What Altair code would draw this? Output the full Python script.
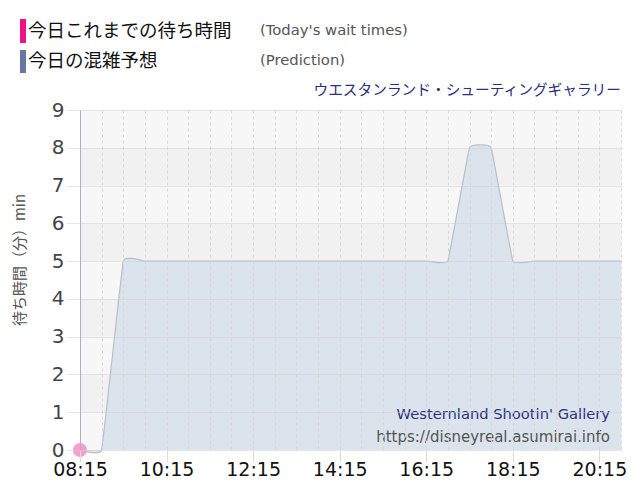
import altair as alt
import pandas as pd

# ---- data (30-minute prediction steps) ----
pred_times = ["08:15", "08:45", "09:15", "09:45", "10:15", "10:45", "11:15", "11:45",
              "12:15", "12:45", "13:15", "13:45", "14:15", "14:45", "15:15", "15:45",
              "16:15", "16:45", "17:15", "17:45", "18:15", "18:45", "19:15", "19:45",
              "20:15", "20:45"]
pred_values = [0, 0, 5, 5, 5, 5, 5, 5,
               5, 5, 5, 5, 5, 5, 5, 5,
               5, 5, 8, 8, 5, 5, 5, 5,
               5, 5]
today_times = ["08:15"]
today_values = [0]

band_lo = [0, 1, 2, 3, 4, 5, 6, 7, 8]
x_ticks = [8.25 + 0.5 * i for i in range(26)]
y_ticks = [0, 1, 2, 3, 4, 5, 6, 7, 8, 9]

def to_hours(t):
    h, m = t.split(":")
    return int(h) + int(m) / 60

pred = pd.DataFrame({"t": pred_times, "v": pred_values})
pred["h"] = pred["t"].map(to_hours)
today = pd.DataFrame({"t": today_times, "v": today_values})
today["h"] = today["t"].map(to_hours)
bands = pd.DataFrame({"lo": band_lo})
bands["hi"] = bands["lo"] + 1
bands["c"] = ["#f7f7f7" if b % 2 == 0 else "#f1f1f1" for b in band_lo]

W, H = 541, 340
XD = [8.25, 20.75]
YD = [0, 9]

major = "(datum.value - 8.25) % 2 == 0"
label_expr = (major + " ? "
              "(floor(datum.value) < 10 ? '0' : '') + floor(datum.value) + ':' + "
              "(round((datum.value % 1) * 60) < 10 ? '0' : '') + round((datum.value % 1) * 60) : ''")

xs = alt.Scale(domain=XD, nice=False, zero=False)
ys = alt.Scale(domain=YD, nice=False)

x_axis = alt.Axis(values=x_ticks, labelExpr=label_expr, title=None, grid=True,
                  gridColor="#d6d6d6", gridDash=[3, 3], gridWidth=1,
                  domain=False, tickColor="#dcdcdc", tickSize=12,
                  tickOpacity={"condition": {"test": major, "value": 1}, "value": 0},
                  labelFont="DejaVu Sans", labelFontSize=19, labelColor="#111",
                  labelPadding=-2, zindex=1, labelOverlap=False, labelFlush=False,
                  labelBound=False)
y_axis = alt.Axis(values=y_ticks, title=None, grid=True, gridColor="#cfcfcf",
                  gridDash=[1, 1], domainColor="#b0b0b8", tickColor="#cfcfcf",
                  tickDash=[1, 1], tickSize=14, labelFont="DejaVu Sans", labelFontSize=20,
                  labelColor="#444", labelPadding=2, zindex=1, labelOverlap=False,
                  labelFlush=False, labelBound=False)

band_layer = alt.Chart(bands).mark_rect().encode(
    y=alt.Y("lo:Q", scale=ys, axis=y_axis),
    y2="hi:Q",
    x=alt.value(0), x2=alt.value(W),
    color=alt.Color("c:N", scale=None),
)

TENSION = 0.8
area_layer = alt.Chart(pred).mark_area(
    interpolate="cardinal", tension=TENSION, color="#d9e3eb", opacity=0.95,
    line={"color": "#b5c0ca", "strokeWidth": 1.2, "interpolate": "cardinal", "tension": TENSION},
).encode(
    x=alt.X("h:Q", scale=xs, axis=x_axis),
    y=alt.Y("v:Q", scale=ys, axis=y_axis),
)

point_layer = alt.Chart(today).mark_circle(size=200, color="#f4a0cd", opacity=1).encode(
    x=alt.X("h:Q", scale=xs, axis=x_axis), y=alt.Y("v:Q", scale=ys, axis=y_axis)
)

ann = pd.DataFrame({"k": [0]})

def txt(text, x, y, size, color, font, align="left", angle=0, baseline="middle"):
    kw = dict(text=text, align=align, baseline=baseline, fontSize=size, color=color, font=font)
    if angle:
        kw["angle"] = angle
    return alt.Chart(ann).mark_text(**kw).encode(x=alt.value(x), y=alt.value(y))

def bar(x, x2, y, y2, color):
    return alt.Chart(ann).mark_rect(color=color).encode(
        x=alt.value(x), x2=alt.value(x2), y=alt.value(y), y2=alt.value(y2))

jp = "Noto Sans CJK JP"
layers = [
    band_layer, area_layer, point_layer,
    bar(-60, -54, -91, -67, "#ee1188"),
    bar(-60, -54, -60, -37, "#6677a3"),
    txt("今日これまでの待ち時間", -52, -79, 18.5, "#111", jp),
    txt("今日の混雑予想", -52, -49, 18.5, "#111", jp),
    txt("(Today's wait times)", 180, -79, 14.8, "#555", "DejaVu Sans"),
    txt("(Prediction)", 180, -49, 14.8, "#555", "DejaVu Sans"),
    txt("ウエスタンランド・シューティングギャラリー", 541, -19, 14.7, "#2a2f7e", jp, align="right"),
    txt("Westernland Shootin' Gallery", 530, 305, 14.7, "#2a2f7e", "DejaVu Sans", align="right"),
    txt("https://disneyreal.asumirai.info", 530, 327, 15, "#555", "DejaVu Sans", align="right"),
    txt("待ち時間（分）min", -60, 150, 15, "#555", jp, align="center", angle=270),
]

chart = alt.layer(*layers).properties(
    width=W, height=H,
    autosize=alt.AutoSizeParams(type="none"),
    padding={"left": 72, "top": 102, "right": 11, "bottom": 42},
    background="white",
).configure_view(stroke=None)

chart.save("out.html", embed_options={"renderer": "svg", "actions": False})
